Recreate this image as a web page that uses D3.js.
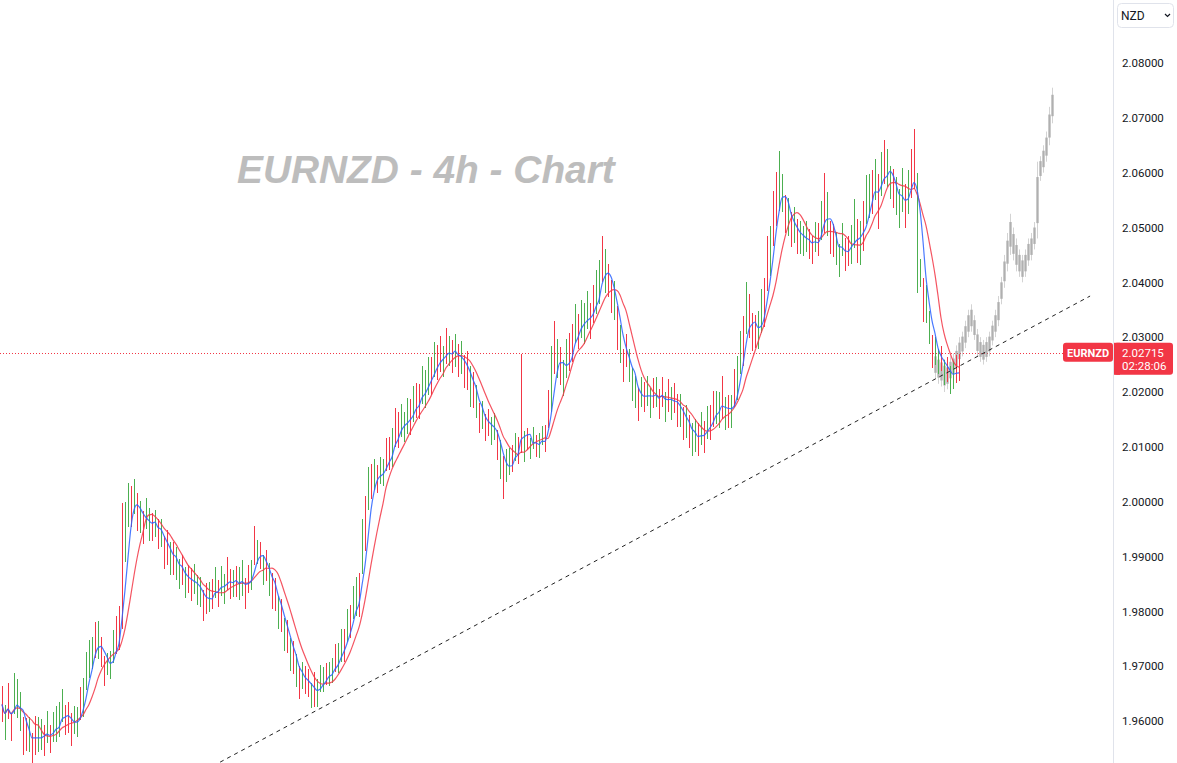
<!DOCTYPE html>
<html><head><meta charset="utf-8">
<script src="https://cdn.jsdelivr.net/npm/d3@7"></script>
<style>html,body{margin:0;padding:0;background:#fff;overflow:hidden}</style>
</head><body>
<svg id="c" width="1177" height="763"></svg>
<script>
// ---------- DATA ----------
const symbol = "EURNZD";
const titleText = "EURNZD - 4h - Chart";
const currency = "NZD";
const lastPrice = 2.02715;
const countdown = "02:28:06";
const priceTicks = [1.96,1.97,1.98,1.99,2.00,2.01,2.02,2.03,2.04,2.05,2.06,2.07,2.08];

const highs = [
1.9663,1.9630,1.9669,1.9614,1.9687,1.9676,1.9652,1.9608,1.9606,1.9608,
1.9579,1.9610,1.9608,1.9603,1.9593,1.9619,1.9592,1.9616,1.9627,1.9635,
1.9658,1.9630,1.9634,1.9614,1.9627,1.9626,1.9662,1.9678,1.9726,1.9748,
1.9754,1.9780,1.9783,1.9753,1.9718,1.9724,1.9727,1.9766,1.9792,1.9810,
1.9998,2.0000,2.0034,2.0029,2.0042,2.0016,2.0002,1.9983,2.0006,1.9988,
1.9979,1.9985,1.9968,1.9968,1.9938,1.9949,1.9927,1.9926,1.9917,1.9895,
1.9903,1.9880,1.9884,1.9879,1.9887,1.9866,1.9862,1.9838,1.9851,1.9853,
1.9859,1.9880,1.9858,1.9883,1.9868,1.9899,1.9877,1.9876,1.9882,1.9880,
1.9893,1.9860,1.9884,1.9894,1.9955,1.9931,1.9927,1.9903,1.9911,1.9888,
1.9869,1.9860,1.9828,1.9823,1.9788,1.9784,1.9752,1.9746,1.9722,1.9700,
1.9708,1.9700,1.9694,1.9669,1.9690,1.9676,1.9702,1.9698,1.9706,1.9708,
1.9714,1.9740,1.9743,1.9768,1.9768,1.9804,1.9812,1.9846,1.9862,1.9870,
1.9968,2.0010,2.0064,2.0069,2.0077,2.0066,2.0082,2.0078,2.0116,2.0118,
2.0134,2.0170,2.0163,2.0178,2.0163,2.0189,2.0187,2.0211,2.0217,2.0215,
2.0248,2.0240,2.0264,2.0264,2.0292,2.0286,2.0302,2.0283,2.0316,2.0303,
2.0294,2.0305,2.0288,2.0293,2.0268,2.0274,2.0247,2.0236,2.0212,2.0180,
2.0183,2.0160,2.0169,2.0154,2.0162,2.0131,2.0112,2.0083,2.0096,2.0098,
2.0104,2.0125,2.0118,2.0270,2.0128,2.0134,2.0117,2.0136,2.0122,2.0125,
2.0138,2.0140,2.0204,2.0284,2.0330,2.0296,2.0282,2.0258,2.0296,2.0308,
2.0324,2.0360,2.0343,2.0368,2.0363,2.0384,2.0362,2.0396,2.0422,2.0440,
2.0485,2.0460,2.0434,2.0404,2.0402,2.0356,2.0322,2.0278,2.0306,2.0278,
2.0244,2.0230,2.0208,2.0228,2.0218,2.0229,2.0207,2.0226,2.0227,2.0205,
2.0228,2.0200,2.0224,2.0209,2.0217,2.0196,2.0197,2.0173,2.0176,2.0158,
2.0144,2.0150,2.0143,2.0163,2.0148,2.0174,2.0177,2.0201,2.0202,2.0200,
2.0230,2.0190,2.0194,2.0194,2.0242,2.0266,2.0312,2.0338,2.0401,2.0378,
2.0344,2.0340,2.0348,2.0388,2.0408,2.0484,2.0502,2.0566,2.0602,2.0640,
2.0598,2.0560,2.0554,2.0529,2.0537,2.0516,2.0512,2.0503,2.0511,2.0498,
2.0484,2.0510,2.0508,2.0548,2.0600,2.0564,2.0512,2.0506,2.0492,2.0470,
2.0508,2.0480,2.0484,2.0504,2.0552,2.0516,2.0512,2.0548,2.0596,2.0598,
2.0604,2.0625,2.0598,2.0638,2.0660,2.0644,2.0612,2.0606,2.0592,2.0570,
2.0608,2.0580,2.0604,2.0644,2.0680,2.0600,2.0442,2.0408,2.0396,2.0348,
2.0304,2.0300,2.0278,2.0283,2.0258,2.0264,2.0247,2.0256,2.0267,2.0270];

const lows = [
1.9598,1.9565,1.9604,1.9564,1.9612,1.9606,1.9582,1.9538,1.9546,1.9543,
1.9524,1.9538,1.9543,1.9548,1.9536,1.9559,1.9542,1.9562,1.9562,1.9570,
1.9598,1.9575,1.9579,1.9554,1.9577,1.9571,1.9602,1.9608,1.9656,1.9678,
1.9694,1.9715,1.9713,1.9698,1.9663,1.9684,1.9677,1.9706,1.9722,1.9730,
1.9768,1.9890,1.9954,1.9954,1.9977,1.9946,1.9942,1.9923,1.9951,1.9928,
1.9929,1.9935,1.9913,1.9918,1.9878,1.9884,1.9867,1.9866,1.9857,1.9840,
1.9848,1.9825,1.9834,1.9819,1.9832,1.9811,1.9807,1.9783,1.9796,1.9798,
1.9804,1.9825,1.9808,1.9828,1.9813,1.9839,1.9822,1.9826,1.9827,1.9820,
1.9828,1.9805,1.9834,1.9839,1.9885,1.9886,1.9877,1.9848,1.9856,1.9828,
1.9804,1.9800,1.9768,1.9763,1.9728,1.9724,1.9692,1.9686,1.9662,1.9640,
1.9658,1.9650,1.9644,1.9624,1.9625,1.9626,1.9652,1.9653,1.9666,1.9663,
1.9669,1.9690,1.9688,1.9708,1.9708,1.9744,1.9752,1.9786,1.9792,1.9790,
1.9868,1.9910,1.9984,2.0004,2.0022,2.0016,2.0032,2.0028,2.0056,2.0058,
2.0064,2.0100,2.0098,2.0118,2.0108,2.0124,2.0122,2.0146,2.0152,2.0150,
2.0178,2.0170,2.0194,2.0194,2.0227,2.0221,2.0237,2.0228,2.0251,2.0248,
2.0234,2.0245,2.0228,2.0233,2.0208,2.0204,2.0172,2.0171,2.0152,2.0125,
2.0133,2.0110,2.0119,2.0104,2.0112,2.0076,2.0042,2.0005,2.0036,2.0048,
2.0054,2.0075,2.0068,2.0088,2.0073,2.0094,2.0077,2.0096,2.0082,2.0080,
2.0103,2.0090,2.0134,2.0164,2.0232,2.0226,2.0212,2.0193,2.0226,2.0238,
2.0254,2.0290,2.0278,2.0298,2.0288,2.0314,2.0297,2.0326,2.0342,2.0360,
2.0400,2.0380,2.0374,2.0344,2.0332,2.0276,2.0252,2.0218,2.0246,2.0218,
2.0184,2.0170,2.0148,2.0173,2.0163,2.0174,2.0152,2.0171,2.0172,2.0150,
2.0173,2.0145,2.0164,2.0149,2.0162,2.0136,2.0137,2.0113,2.0116,2.0098,
2.0084,2.0090,2.0083,2.0103,2.0088,2.0114,2.0112,2.0136,2.0142,2.0135,
2.0150,2.0130,2.0134,2.0134,2.0172,2.0186,2.0232,2.0248,2.0306,2.0298,
2.0274,2.0280,2.0278,2.0308,2.0318,2.0384,2.0412,2.0466,2.0502,2.0530,
2.0528,2.0490,2.0484,2.0464,2.0472,2.0451,2.0452,2.0448,2.0456,2.0443,
2.0434,2.0455,2.0448,2.0478,2.0490,2.0484,2.0452,2.0446,2.0432,2.0410,
2.0448,2.0420,2.0429,2.0434,2.0462,2.0436,2.0432,2.0458,2.0506,2.0518,
2.0524,2.0550,2.0498,2.0558,2.0580,2.0574,2.0552,2.0536,2.0522,2.0500,
2.0528,2.0500,2.0524,2.0554,2.0570,2.0380,2.0392,2.0328,2.0326,2.0288,
2.0244,2.0250,2.0233,2.0238,2.0213,2.0219,2.0197,2.0206,2.0217,2.0220];

// bar direction: g = up bar, r = down bar
const directions = [
"rgrrgggrrg","rrggrgrggg","grrrggrggg","grgrrgggrr","rggrgrgrgg",
"rgrgrrgrgg","rgrrgggrrg","rgrggrrgrg","grrgrgrgrg","rrgrgrgrgr",
"grrgrgggrg","grggrgrggr","grgrgrggrr","grrgggrgrr","gggrgrrgrg",
"rgrgrrgrgr","grrggrgrgg","rgrrgrggrg","grrgrgrggr","rgrgggrrgg",
"rgrrgrgrrg","ggrgrggrgr","rgrgrrgrgr","ggrgrgrrgg","rgrgrggrgr",
"rrggrrgrrg","grgrgrgggr","rgrgrgrrgg","grrggrgrgg","rgrgrggrgg",
"grgrrggrgg","rggrgrggrr"].join("");

// projected path (ghost bars), continuing from bar 311
const ghostStart = 311;
const ghostHighs = [
2.0275,2.0270,2.0265,2.0260,2.0255,2.0265,2.0270,2.0285,2.0300,2.0310,
2.0330,2.0350,2.0360,2.0340,2.0315,2.0300,2.0295,2.0300,2.0310,2.0330,
2.0350,2.0375,2.0410,2.0450,2.0490,2.0525,2.0500,2.0480,2.0460,2.0450,
2.0460,2.0480,2.0490,2.0510,2.0620,2.0630,2.0650,2.0675,2.0720,2.0755];
const ghostLows = [
2.0225,2.0215,2.0210,2.0200,2.0205,2.0215,2.0225,2.0235,2.0250,2.0265,
2.0280,2.0300,2.0310,2.0295,2.0265,2.0255,2.0250,2.0255,2.0265,2.0285,
2.0300,2.0320,2.0360,2.0390,2.0420,2.0450,2.0440,2.0420,2.0410,2.0400,
2.0410,2.0430,2.0440,2.0460,2.0480,2.0585,2.0600,2.0620,2.0650,2.0690];

// trend line anchors [bar index, price]
const trendStart = [72.7, 1.9525];
const trendEnd = [362.7, 2.0375];

// moving average periods (on bar midpoints)
const fastPeriod = 4;
const slowPeriod = 9;

// ---------- CHART ----------
const W = 1177, H = 763, axisX = 1113;
const svg = d3.select("#c");
const y = d3.scaleLinear().domain([1.96, 2.08]).range([721, 63]);
const x = d3.scaleLinear().domain([0, 359]).range([2, 1079]);

svg.append("rect").attr("width", W).attr("height", H).attr("fill", "#fff");
svg.append("defs").append("clipPath").attr("id", "plot")
  .append("rect").attr("x", 0).attr("y", 0).attr("width", axisX).attr("height", H);
const plot = svg.append("g").attr("clip-path", "url(#plot)");

// title watermark
const title = plot.append("text").text(titleText)
  .attr("x", 237).attr("y", 183)
  .attr("font-family", "'Liberation Sans', Arial, sans-serif")
  .attr("font-weight", "bold").attr("font-style", "italic")
  .attr("font-size", 39).attr("fill", "#bdbdbd");
const tl = title.node().getComputedTextLength();
title.attr("font-size", 39 * 378 / tl);

// last price dotted line
plot.append("line").attr("x1", 0).attr("x2", axisX).attr("y1", Math.round(y(lastPrice)) + 0.5)
  .attr("y2", Math.round(y(lastPrice)) + 0.5).attr("stroke", "#f23645")
  .attr("stroke-width", 1).attr("stroke-dasharray", "1,2");

// ghost bars
const ghost = plot.append("g");
ghostHighs.forEach((h, j) => {
  const l = ghostLows[j];
  const cx = Math.round(x(ghostStart + j)) + 0.5;
  ghost.append("line").attr("x1", cx).attr("x2", cx).attr("y1", y(h)).attr("y2", y(l))
    .attr("stroke", "#9e9e9e").attr("stroke-opacity", 0.45).attr("stroke-width", 1);
  const m1 = h - (h - l) * 0.2, m2 = l + (h - l) * 0.2;
  ghost.append("rect").attr("x", cx - 1.5).attr("width", 3).attr("y", y(m1)).attr("height", y(m2) - y(m1))
    .attr("fill", "#808080").attr("fill-opacity", 0.42);
});

// bars
const bars = plot.append("g");
highs.forEach((h, i) => {
  const cx = Math.round(x(i)) + 0.5;
  bars.append("line").attr("x1", cx).attr("x2", cx)
    .attr("y1", Math.round(y(h))).attr("y2", Math.round(y(lows[i])))
    .attr("stroke", directions[i] === "g" ? "#4caf50" : "#f23645").attr("stroke-width", 1);
});

// moving averages
const mids = highs.map((h, i) => (h + lows[i]) / 2);
function sma(p) {
  return mids.map((_, i) => {
    const s = mids.slice(Math.max(0, i - p + 1), i + 1);
    return [i, d3.mean(s)];
  });
}
const line = d3.line().x(d => x(d[0])).y(d => y(d[1])).curve(d3.curveMonotoneX);
plot.append("path").attr("d", line(sma(slowPeriod))).attr("fill", "none")
  .attr("stroke", "#f23645").attr("stroke-opacity", 0.85).attr("stroke-width", 1.2);
plot.append("path").attr("d", line(sma(fastPeriod))).attr("fill", "none")
  .attr("stroke", "#2962ff").attr("stroke-opacity", 0.85).attr("stroke-width", 1.2);

// trend line
plot.append("line")
  .attr("x1", x(trendStart[0])).attr("y1", y(trendStart[1]))
  .attr("x2", x(trendEnd[0])).attr("y2", y(trendEnd[1]))
  .attr("stroke", "#222").attr("stroke-width", 1).attr("stroke-dasharray", "4,4");

// price axis
svg.append("line").attr("x1", axisX + 0.5).attr("x2", axisX + 0.5).attr("y1", 0).attr("y2", H)
  .attr("stroke", "#e0e3eb");
const axis = d3.axisRight(y).tickValues(priceTicks).tickFormat(d3.format(".5f")).tickSize(0).tickPadding(0);
const ag = svg.append("g").attr("transform", `translate(${axisX + 9},0)`).call(axis);
ag.select(".domain").remove();
ag.selectAll("text").attr("font-family", "Roboto, 'Liberation Sans', sans-serif")
  .attr("font-size", 11.5).attr("fill", "#131722");

// currency button
const btn = svg.append("g");
btn.append("rect").attr("x", 1117.5).attr("y", 3.5).attr("width", 56).attr("height", 24).attr("rx", 4)
  .attr("fill", "#fff").attr("stroke", "#e0e3eb");
btn.append("text").text(currency).attr("x", 1121).attr("y", 19.5)
  .attr("font-family", "Roboto, 'Liberation Sans', sans-serif").attr("font-size", 12).attr("fill", "#131722");
btn.append("path").attr("d", "M1165,14 L1167.5,16.5 L1170,14").attr("fill", "none")
  .attr("stroke", "#131722").attr("stroke-width", 1.2);

// last price labels
const ly = y(lastPrice);
const lab = svg.append("g");
lab.append("rect").attr("x", 1063).attr("y", ly - 10).attr("width", 50).attr("height", 19).attr("rx", 3)
  .attr("fill", "#f23645");
lab.append("text").text(symbol).attr("x", 1088).attr("y", ly + 4).attr("text-anchor", "middle")
  .attr("font-family", "Roboto, 'Liberation Sans', sans-serif").attr("font-weight", "bold")
  .attr("font-size", 11).attr("fill", "#fff");
lab.append("rect").attr("x", 1114).attr("y", ly - 10).attr("width", 59).attr("height", 32).attr("rx", 3)
  .attr("fill", "#f23645");
lab.append("rect").attr("x", 1114).attr("y", ly - 10).attr("width", 6).attr("height", 32).attr("fill", "#f23645");
lab.append("text").text(lastPrice.toFixed(5)).attr("x", 1122).attr("y", ly + 4)
  .attr("font-family", "Roboto, 'Liberation Sans', sans-serif").attr("font-size", 11.5).attr("fill", "#fff");
lab.append("text").text(countdown).attr("x", 1122).attr("y", ly + 17)
  .attr("font-family", "Roboto, 'Liberation Sans', sans-serif").attr("font-size", 11.5).attr("fill", "#fff");
</script>
</body></html>
